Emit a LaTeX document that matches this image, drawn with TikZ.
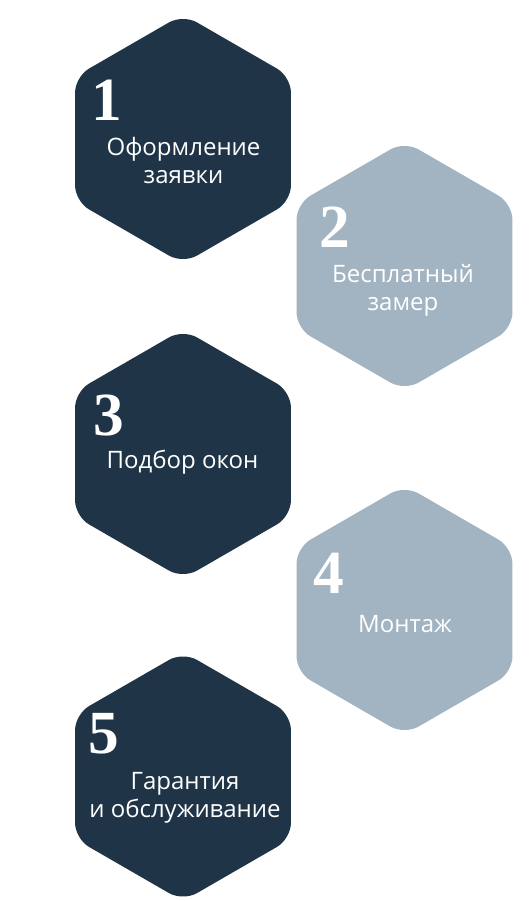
\documentclass[tikz,border=0pt]{standalone}
\usepackage{fontspec}
\setmainfont{Open Sans}
\newfontfamily\numfont{Liberation Serif}
\usetikzlibrary{shapes.geometric, positioning, calc}

\definecolor{hexdark}{HTML}{1F3547}
\definecolor{hexlight}{HTML}{A2B4C2}

\begin{document}
\begin{tikzpicture}[
        x=0.75pt, y=-0.75pt,
        hexbox/.style={regular polygon, regular polygon sides=6, shape border rotate=30, minimum size=187pt, inner sep=0pt, rounded corners=12pt, draw=none},
        darkhex/.style={hexbox, fill=hexdark},
        lighthex/.style={hexbox, fill=hexlight},
        num/.style={anchor=base west, inner sep=0pt, text=white, font=\numfont\bfseries\fontsize{46}{46}\selectfont},
        txt/.style={anchor=base, inner sep=0pt, text=white, align=center, font=\fontsize{18}{21}\selectfont}
    ]
        \useasboundingbox (0,0) rectangle (530,901);
        \node[darkhex] (h1) at (183, 139) {};
        \node[lighthex] (h2) at (404.5, 266) {};
        \node[darkhex] (h3) at (183, 454) {};
        \node[lighthex] (h4) at (404.5, 610) {};
        \node[darkhex] (h5) at (183, 776.5) {};
        \node[num] (n1) at (91, 120) {1};
        \node[num] (n2) at (319, 247) {2};
        \node[num] (n3) at (93, 435) {3};
        \node[num] (n4) at (313, 593) {4};
        \node[num] (n5) at (88, 753) {5};
        % two-line texts: base is the last line
        \node[txt] (t1) at (183.5, 183) {Оформление\\заявки};
        \node[txt] (t2) at (403, 310) {Бесплатный\\замер};
        \node[txt] (t3) at (182.5, 468) {Подбор окон};
        \node[txt] (t4) at (405, 632) {Монтаж};
        \node[txt] (t5) at (185, 817) {Гарантия\\и обслуживание};
    \end{tikzpicture}
\end{document}
